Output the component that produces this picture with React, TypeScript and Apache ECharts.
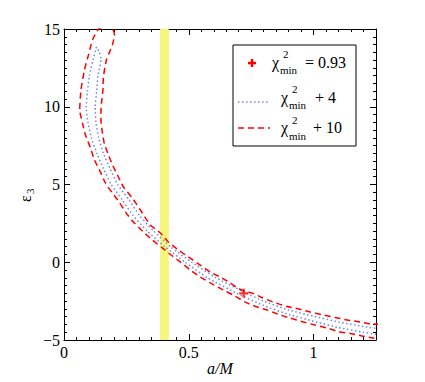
import React, { useEffect, useRef } from "react";
import * as echarts from "echarts";

// Axis ranges
const X_MIN = 0;
const X_MAX = 1.25;
const Y_MIN = -5;
const Y_MAX = 15;

// Yellow vertical band (a/M range)
const yellowBand: [number, number] = [0.385, 0.42];

// Best fit point (a/M, eps3)
const bestFit: [number, number][] = [[0.72, -2.0]];

// chi2_min + 10 contour (red dashed), closed loop
const redContour: [number, number][] = [
  [0.15, 15.1], [0.138, 15.0], [0.114, 14.29], [0.098, 13.33], [0.082, 12.36],
  [0.068, 11.08], [0.063, 9.79], [0.074, 8.95], [0.086, 8.18], [0.106, 7.35],
  [0.122, 6.58], [0.146, 5.8], [0.166, 5.1], [0.194, 4.45], [0.222, 3.85],
  [0.246, 3.24], [0.278, 2.59], [0.318, 1.95], [0.354, 1.43], [0.394, 0.92],
  [0.43, 0.45], [0.466, 0.02], [0.506, -0.5], [0.546, -0.95], [0.586, -1.33],
  [0.638, -1.78], [0.678, -2.11], [0.726, -2.56], [0.774, -2.88], [0.814, -3.07],
  [0.866, -3.39], [0.906, -3.59], [0.958, -3.84], [1.006, -4.04], [1.054, -4.23],
  [1.098, -4.45], [1.146, -4.58], [1.194, -4.74], [1.238, -4.87], [1.3, -5.0],
  [1.33, -4.5], [1.3, -4.05], [1.234, -3.97], [1.186, -3.84], [1.134, -3.71],
  [1.086, -3.55], [1.038, -3.39], [0.986, -3.2], [0.934, -2.98], [0.894, -2.85],
  [0.838, -2.56], [0.79, -2.25], [0.758, -2.0], [0.72, -1.85], [0.69, -1.6],
  [0.666, -1.33], [0.626, -0.95], [0.586, -0.63], [0.534, -0.05], [0.498, 0.34],
  [0.458, 0.79], [0.418, 1.3], [0.386, 1.88], [0.346, 2.4], [0.306, 3.36],
  [0.274, 4.13], [0.238, 4.84], [0.218, 5.48], [0.196, 6.2], [0.178, 6.9],
  [0.162, 7.6], [0.154, 8.31], [0.148, 9.15], [0.148, 9.79], [0.152, 10.5],
  [0.156, 11.08], [0.158, 11.92], [0.17, 13.01], [0.194, 13.98], [0.202, 14.61],
  [0.195, 15.0], [0.175, 15.15], [0.15, 15.1],
];

// chi2_min + 4 contour (blue dotted), closed loop
const blueContour: [number, number][] = [
  [0.13, 13.85], [0.116, 13.0], [0.102, 12.0], [0.094, 11.0], [0.089, 10.0],
  [0.096, 9.0], [0.11, 8.0], [0.132, 7.0], [0.159, 6.0], [0.189, 5.0],
  [0.234, 4.0], [0.277, 3.0], [0.334, 2.0], [0.404, 1.0], [0.486, 0.0],
  [0.575, -1.0], [0.693, -2.0], [0.8, -2.78], [0.9, -3.36], [1.0, -3.79],
  [1.1, -4.2], [1.2, -4.5], [1.25, -4.63], [1.3, -4.75], [1.33, -4.45],
  [1.3, -4.35], [1.25, -4.25], [1.2, -4.13], [1.1, -3.84], [1.0, -3.47],
  [0.9, -3.07], [0.8, -2.5], [0.732, -2.0], [0.609, -1.0], [0.512, 0.0],
  [0.427, 1.0], [0.36, 2.0], [0.303, 3.0], [0.261, 4.0], [0.215, 5.0],
  [0.185, 6.0], [0.158, 7.0], [0.139, 8.0], [0.128, 9.0], [0.125, 10.0],
  [0.131, 11.0], [0.136, 12.0], [0.148, 13.0], [0.142, 13.5], [0.13, 13.85],
];

const RED = "#ff0000";
const BLUE = "#6f86ee";
const YELLOW = "#f6f67a";
const SERIF = "'Liberation Serif', 'DejaVu Serif', serif";

const txt = (text: string, x: number, y: number, size: number, extra: any = {}) => ({
  type: "text",
  x,
  y,
  z: 100,
  style: {
    text,
    fontFamily: SERIF,
    fontSize: size,
    fill: "#000",
    align: "left",
    verticalAlign: "middle",
    textAlign: "left",
    textVerticalAlign: "middle",
    ...extra,
  },
});

const legendRow = (chiX: number, y: number, rest: string, restX: number) => [
  txt("\u03c7", chiX, y, 16),
  txt("2", chiX + 11, y - 8, 11),
  txt("min", chiX + 8, y + 8, 11),
  txt(rest, restX, y, 16),
];

export default function App() {
  const ref = useRef<HTMLDivElement>(null);
  useEffect(() => {
    if (!ref.current) return;
    const chart = echarts.init(ref.current, null, { renderer: "svg" });
    const labelStyle = { fontFamily: SERIF, fontSize: 16, color: "#000" };
    const grid = { left: 64, top: 29, width: 312, height: 311 };
    const majorX = (pos: string, labels: boolean) => ({
      type: "value",
      position: pos,
      min: X_MIN,
      max: X_MAX,
      interval: 0.5,
      axisLine: { show: true, onZero: false, lineStyle: { color: "#000", width: 1 } },
      axisTick: { show: true, inside: true, length: 6, lineStyle: { color: "#000" } },
      axisLabel: labels
        ? { ...labelStyle, margin: 4, showMaxLabel: false, formatter: (v: number) => String(v) }
        : { show: false },
      splitLine: { show: false },
    });
    const minorX = (pos: string) => ({
      type: "value",
      position: pos,
      min: X_MIN,
      max: X_MAX,
      interval: 0.05,
      axisLine: { show: false, onZero: false },
      axisTick: { show: true, inside: true, length: 3, lineStyle: { color: "#000" } },
      axisLabel: { show: false },
      splitLine: { show: false },
    });
    const yAx = (pos: string, labels: boolean) => ({
      type: "value",
      position: pos,
      min: Y_MIN,
      max: Y_MAX,
      interval: 5,
      axisLine: { show: true, onZero: false, lineStyle: { color: "#000", width: 1 } },
      axisTick: { show: true, inside: true, length: 6, lineStyle: { color: "#000" } },
      minorTick: { show: true, splitNumber: 10, length: 3, lineStyle: { color: "#000" } },
      axisLabel: labels
        ? {
            ...labelStyle,
            margin: 4,
            formatter: (v: number) => (v < 0 ? "\u2212" + Math.abs(v) : String(v)),
          }
        : { show: false },
      splitLine: { show: false },
    });

    chart.setOption({
      animation: false,
      backgroundColor: "#fff",
      grid,
      xAxis: [majorX("bottom", true), minorX("bottom"), majorX("top", false), minorX("top")],
      yAxis: [yAx("left", true), yAx("right", false)],
      series: [
        {
          type: "line",
          name: "band",
          data: [],
          z: 1,
          silent: true,
          markArea: {
            silent: true,
            itemStyle: { color: YELLOW, opacity: 1 },
            data: [[{ xAxis: yellowBand[0] }, { xAxis: yellowBand[1] }]],
          },
        },
        {
          type: "line",
          name: "chi2min+10",
          data: redContour,
          symbol: "none",
          smooth: 0.2,
          clip: true,
          z: 3,
          lineStyle: { color: RED, width: 1.5, type: [6, 4] },
        },
        {
          type: "line",
          name: "chi2min+4",
          data: blueContour,
          symbol: "none",
          smooth: 0.2,
          clip: true,
          z: 2,
          lineStyle: { color: BLUE, width: 1.5, type: [1.5, 2.5] },
        },
        {
          type: "scatter",
          name: "best",
          data: bestFit,
          symbol: "path://M3,0h2v3h3v2h-3v3h-2v-3h-3v-2h3z",
          symbolSize: 9,
          z: 4,
          itemStyle: { color: RED },
        },
      ],
      graphic: [
        // legend box
        {
          type: "rect",
          z: 90,
          shape: { x: 233, y: 45, width: 123, height: 101 },
          style: { fill: "#fff", stroke: "#000", lineWidth: 1 },
        },
        { type: "rect", z: 95, shape: { x: 248, y: 61.8, width: 8, height: 2.5 }, style: { fill: RED } },
        { type: "rect", z: 95, shape: { x: 250.8, y: 59, width: 2.5, height: 8 }, style: { fill: RED } },
        {
          type: "line",
          z: 95,
          shape: { x1: 238, y1: 102, x2: 269, y2: 102 },
          style: { stroke: BLUE, lineWidth: 1.5, lineDash: [1.5, 2.5] },
        },
        {
          type: "line",
          z: 95,
          shape: { x1: 238, y1: 128, x2: 270, y2: 128 },
          style: { stroke: RED, lineWidth: 1.5, lineDash: [6, 4] },
        },
        ...legendRow(272, 62, "= 0.93", 305),
        ...legendRow(281, 97, "+ 4", 315),
        ...legendRow(281, 127.5, "+ 10", 313),
        // axis titles
        {
          type: "group",
          x: 25,
          y: 196,
          rotation: Math.PI / 2,
          children: [
            txt("\u03b5", -6, 0, 16),
            txt("3", 2, 5, 11),
          ],
        },
        txt("a/M", 220, 368, 16, { fontStyle: "italic", align: "center", textAlign: "center" }),
      ],
    });
    return () => chart.dispose();
  }, []);
  return (
    <div
      ref={ref}
      style={{ position: "fixed", left: 0, top: 0, width: 425, height: 382, background: "#fff" }}
    />
  );
}
